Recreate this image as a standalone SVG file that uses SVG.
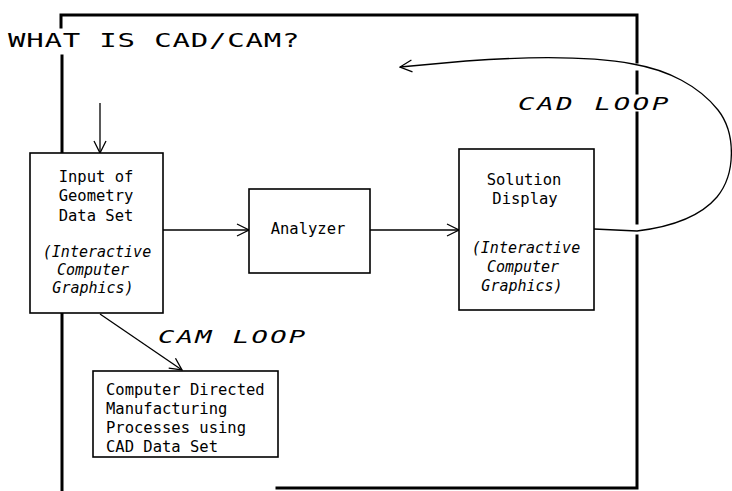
<svg xmlns="http://www.w3.org/2000/svg" width="732" height="491" viewBox="0 0 732 491">
  <style>
    .frame { fill: none; stroke: #000; stroke-width: 3; stroke-linecap: square; }
    .box { fill: #fff; stroke: #000; stroke-width: 1.6; }
    .conn { fill: none; stroke: #000; stroke-width: 1.3; }
    .txt { font-family: "DejaVu Sans Mono", "Liberation Mono", monospace; font-size: 15.5px; fill: #000; }
    .ital { font-family: "DejaVu Sans Mono", "Liberation Mono", monospace; font-size: 15px; font-style: italic; fill: #000; }
    .loop { font-family: "DejaVu Sans Mono", "Liberation Mono", monospace; font-size: 17px; font-style: italic; fill: #000; }
    .title { font-family: "DejaVu Sans Mono", "Liberation Mono", monospace; font-size: 20px; fill: #000; }
  </style>
  <defs>
    <marker id="arrow" viewBox="0 0 14 14" refX="13" refY="7" markerWidth="14" markerHeight="14" markerUnits="userSpaceOnUse" orient="auto">
      <path d="M1,1 L13,7 L1,13" fill="none" stroke="#000" stroke-width="1.3"/>
    </marker>
  </defs>
  <rect width="732" height="491" fill="#fff"/>

  <!-- outer frame, broken where title, loop and label cross it -->
  <g id="frame">
    <path class="frame" d="M61,27 L61,15 L637,15 L637,62"/>
    <path class="frame" d="M637,72 L637,93"/>
    <path class="frame" d="M637,113 L637,223"/>
    <path class="frame" d="M637,236 L637,488 L277,488"/>
    <path class="frame" d="M62,56 L62,491"/>
  </g>

  <!-- wide plotter lettering: stretched horizontally -->
  <text class="title" transform="translate(8,47) scale(1.45,1)" x="0" y="0" textLength="201" lengthAdjust="spacing">WHAT IS CAD/CAM?</text>

  <g id="connectors">
    <line class="conn" x1="100" y1="103" x2="100" y2="153" marker-end="url(#arrow)"/>
    <line class="conn" x1="163" y1="230" x2="249" y2="230" marker-end="url(#arrow)"/>
    <line class="conn" x1="370" y1="230" x2="459" y2="230" marker-end="url(#arrow)"/>
    <line class="conn" x1="100" y1="314" x2="182" y2="370" marker-end="url(#arrow)"/>
    <path class="conn" d="M594,229 L637,231 C670,227 700,217 717,197 C736,174 736,133 718,110 C699,86 668,70 633,64 C595,57 535,56 466,61 L400,67" marker-end="url(#arrow)"/>
  </g>

  <g id="input">
    <rect class="box" x="30" y="153" width="133" height="160"/>
    <text class="txt" x="96" y="182" text-anchor="middle">Input of</text>
    <text class="txt" x="96" y="201" text-anchor="middle">Geometry</text>
    <text class="txt" x="96" y="221" text-anchor="middle">Data Set</text>
    <text class="ital" x="97" y="257" text-anchor="middle">(Interactive</text>
    <text class="ital" x="93" y="275" text-anchor="middle">Computer</text>
    <text class="ital" x="93" y="293" text-anchor="middle">Graphics)</text>
  </g>

  <g id="analyzer">
    <rect class="box" x="249" y="189" width="121" height="84"/>
    <text class="txt" x="308" y="234" text-anchor="middle">Analyzer</text>
  </g>

  <g id="solution">
    <rect class="box" x="459" y="149" width="135" height="161"/>
    <text class="txt" x="524" y="185" text-anchor="middle">Solution</text>
    <text class="txt" x="525" y="204" text-anchor="middle">Display</text>
    <text class="ital" x="526" y="253" text-anchor="middle">(Interactive</text>
    <text class="ital" x="523" y="272" text-anchor="middle">Computer</text>
    <text class="ital" x="522" y="291" text-anchor="middle">Graphics)</text>
  </g>

  <g id="manufacturing">
    <rect class="box" x="93" y="371" width="185" height="86"/>
    <text class="txt" x="106" y="395">Computer Directed</text>
    <text class="txt" x="106" y="414">Manufacturing</text>
    <text class="txt" x="106" y="433">Processes using</text>
    <text class="txt" x="106" y="452">CAD Data Set</text>
  </g>

  <text class="loop" transform="translate(518,110) scale(1.6,1)" x="0" y="0" textLength="94" lengthAdjust="spacing">CAD LOOP</text>
  <text class="loop" transform="translate(158,343) scale(1.6,1)" x="0" y="0" textLength="92" lengthAdjust="spacing">CAM LOOP</text>
</svg>
